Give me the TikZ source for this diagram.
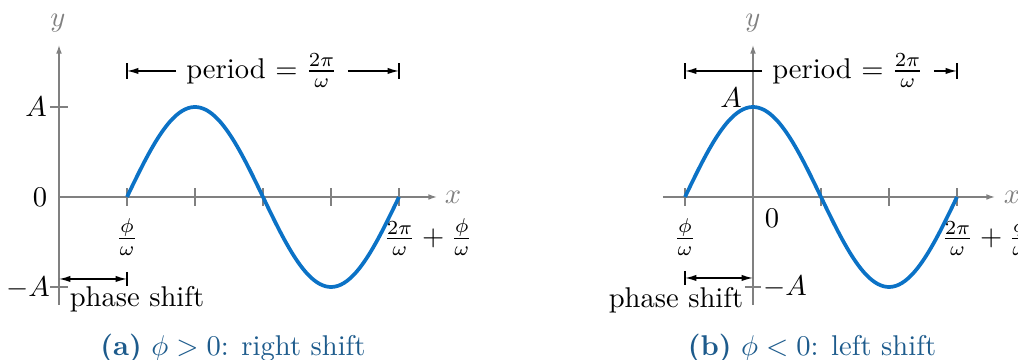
\documentclass[tikz,border=0pt]{standalone}
\usepackage{amsmath}
\usetikzlibrary{positioning, arrows.meta}

\definecolor{wave}{HTML}{0B72C6}
\definecolor{axisgray}{HTML}{808080}
\definecolor{capblue}{HTML}{1D5B8C}

\begin{document}
\begin{tikzpicture}[
    x=0.35pt, y=0.35pt,
    axis/.style={
        axisgray,
        line width=0.45pt,
        -{Latex[length=3pt, width=2pt]}
    },
    tick/.style={axisgray, line width=0.45pt},
    axlabel/.style={text=axisgray},
    wavecurve/.style={wave, line width=1.3pt},
    dimone/.style={line width=0.45pt, -{Latex[length=4pt, width=2.2pt]}},
    dimboth/.style={line width=0.45pt, {Latex[length=4pt, width=2.2pt]}-{Latex[length=4pt, width=2.2pt]}},
    dimbar/.style={line width=0.45pt},
    caption/.style={text=capblue}
]

\useasboundingbox (0,0) rectangle (1018,360);

% (a) right shift
\begin{scope}[shift={(59,163)}]
    \coordinate (a-o) at (0,0);
    \coordinate (a-xend) at (378,0);
    \coordinate (a-ybot) at (0,-108);
    \coordinate (a-ytop) at (0,152);
    \draw[axis] (a-o) -- (a-xend);
    \draw[axis] (a-ybot) -- (a-ytop);
    \node[axlabel] (a-x) at (394,0) {$x$};
    \node[axlabel] (a-y) at (-1,174) {$y$};

    \foreach \t in {68,136,204,272,340}
        \draw[tick] (\t,-9) -- (\t,9);
    \draw[tick] (-9,90) -- (9,90);
    \draw[tick] (-9,-90) -- (9,-90);

    \node (a-A) at (-23,90) {$A$};
    \node (a-zero) at (-19,0) {$0$};
    \node (a-mA) at (-31,-91) {$-A$};
    \node (a-phi) at (68,-40) {$\frac{\phi}{\omega}$};
    \node (a-end) at (369,-40) {$\frac{2\pi}{\omega}+\frac{\phi}{\omega}$};

    \draw[wavecurve] plot[domain=68:340, samples=90, smooth] (\x,{90*sin((\x-68)/68*90)});

    % period
    \node (a-period) at (203,126) {period $=\frac{2\pi}{\omega}$};
    \coordinate (a-pl) at (68,126);
    \coordinate (a-pr) at (340,126);
    \draw[dimone] (a-period.west) -- (a-pl);
    \draw[dimone] (a-period.east) -- (a-pr);
    \draw[dimbar] (68,118) -- (68,134);
    \draw[dimbar] (340,118) -- (340,134);

    % phase shift
    \coordinate (a-s0) at (0,-82);
    \coordinate (a-s1) at (68,-82);
    \draw[dimboth] (a-s0) -- (a-s1);
    \draw[dimbar] (68,-75) -- (68,-89);
    \node[anchor=base] (a-shift) at (78,-110) {phase shift};

    \node[caption] (a-cap) at (174,-151) {\textbf{(a)} $\phi>0$: right shift};
\end{scope}

% (b) left shift
\begin{scope}[shift={(753,163)}]
    \coordinate (b-xbeg) at (-90,0);
    \coordinate (b-xend) at (242,0);
    \coordinate (b-ybot) at (0,-108);
    \coordinate (b-ytop) at (0,152);
    \draw[axis] (b-xbeg) -- (b-xend);
    \draw[axis] (b-ybot) -- (b-ytop);
    \node[axlabel] (b-x) at (259,0) {$x$};
    \node[axlabel] (b-y) at (0,174) {$y$};

    \foreach \t in {-68,68,136,204}
        \draw[tick] (\t,-9) -- (\t,9);
    \draw[tick] (-8,-90) -- (8,-90);

    \node (b-A) at (-22,99) {$A$};
    \node (b-zero) at (19,-21) {$0$};
    \node (b-mA) at (32,-90) {$-A$};
    \node (b-phi) at (-68,-40) {$\frac{\phi}{\omega}$};
    \node (b-end) at (233,-40) {$\frac{2\pi}{\omega}+\frac{\phi}{\omega}$};

    \draw[wavecurve] plot[domain=-68:204, samples=90, smooth] (\x,{90*sin((\x+68)/68*90)});

    % period
    \node (b-period) at (95,126) {period $=\frac{2\pi}{\omega}$};
    \coordinate (b-pl) at (-68,126);
    \coordinate (b-pr) at (204,126);
    \draw[dimone] (b-period.west) -- (b-pl);
    \draw[dimone] (b-period.east) -- (b-pr);
    \draw[dimbar] (-68,118) -- (-68,134);
    \draw[dimbar] (204,118) -- (204,134);

    % phase shift
    \coordinate (b-s0) at (-68,-81);
    \coordinate (b-s1) at (0,-81);
    \draw[dimboth] (b-s0) -- (b-s1);
    \draw[dimbar] (-68,-74) -- (-68,-88);
    \node[anchor=base] (b-shift) at (-77,-111) {phase shift};

    \node[caption] (b-cap) at (59,-151) {\textbf{(b)} $\phi<0$: left shift};
\end{scope}

\end{tikzpicture}
\end{document}
